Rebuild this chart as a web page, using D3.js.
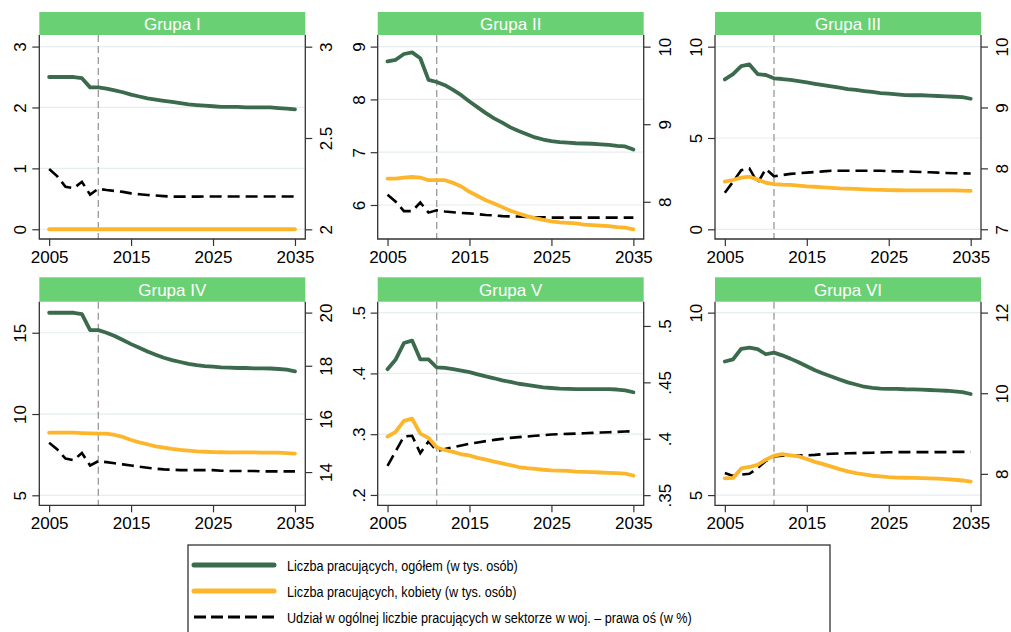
<!DOCTYPE html>
<html>
<head>
<meta charset="utf-8">
<script src="https://cdn.jsdelivr.net/npm/d3@7"></script>
<style>
  body { margin: 0; background: #fff; }
  svg { display: block; }
</style>
</head>
<body>
<svg id="chart" width="1011" height="632"></svg>
<script>
// lata 2005-2035
var years = d3.range(2005, 2036);
var xTicks = [2005, 2015, 2025, 2035];
var markYear = 2011;

var groupNames = ["Grupa I", "Grupa II", "Grupa III", "Grupa IV", "Grupa V", "Grupa VI"];

// ogółem (w tys. osób)
var g1Total = [2.5, 2.5, 2.5, 2.5, 2.48, 2.33, 2.33, 2.31, 2.28, 2.25, 2.21, 2.18, 2.15, 2.13, 2.11, 2.09, 2.07, 2.05, 2.04, 2.03, 2.02, 2.01, 2.01, 2.01, 2.0, 2.0, 2.0, 2.0, 1.99, 1.98, 1.97];
var g2Total = [8.72, 8.75, 8.86, 8.89, 8.78, 8.37, 8.33, 8.27, 8.18, 8.08, 7.96, 7.85, 7.74, 7.64, 7.56, 7.47, 7.40, 7.34, 7.28, 7.24, 7.21, 7.19, 7.18, 7.17, 7.165, 7.16, 7.15, 7.14, 7.12, 7.11, 7.05];
var g3Total = [8.21, 8.5, 8.94, 9.03, 8.5, 8.45, 8.27, 8.23, 8.18, 8.12, 8.05, 7.97, 7.90, 7.83, 7.76, 7.68, 7.63, 7.57, 7.52, 7.46, 7.43, 7.39, 7.35, 7.34, 7.34, 7.32, 7.30, 7.28, 7.26, 7.24, 7.15];
var g4Total = [16.23, 16.23, 16.23, 16.23, 16.15, 15.16, 15.16, 15.0, 14.8, 14.55, 14.30, 14.08, 13.85, 13.65, 13.46, 13.32, 13.20, 13.09, 13.01, 12.95, 12.91, 12.87, 12.85, 12.83, 12.83, 12.81, 12.81, 12.80, 12.77, 12.73, 12.62];
var g5Total = [.407, .423, .450, .454, .423, .423, .410, .409, .407, .4045, .402, .3985, .395, .392, .3885, .386, .383, .381, .379, .377, .376, .375, .3745, .374, .374, .374, .374, .374, .3735, .372, .369];
var g6Total = [8.66, 8.72, 9.01, 9.04, 9.0, 8.86, 8.905, 8.83, 8.74, 8.64, 8.53, 8.42, 8.33, 8.25, 8.17, 8.09, 8.03, 7.97, 7.94, 7.92, 7.91, 7.91, 7.90, 7.895, 7.89, 7.88, 7.87, 7.86, 7.84, 7.82, 7.77];

// kobiety (w tys. osób)
var g1Women = [0, 0, 0, 0, 0, 0, 0, 0, 0, 0, 0, 0, 0, 0, 0, 0, 0, 0, 0, 0, 0, 0, 0, 0, 0, 0, 0, 0, 0, 0, 0];
var g2Women = [6.50, 6.50, 6.52, 6.53, 6.52, 6.47, 6.47, 6.47, 6.42, 6.35, 6.25, 6.17, 6.09, 6.03, 5.96, 5.89, 5.84, 5.79, 5.75, 5.72, 5.69, 5.67, 5.66, 5.65, 5.63, 5.62, 5.61, 5.60, 5.58, 5.57, 5.54];
var g3Women = [2.61, 2.70, 2.83, 2.88, 2.72, 2.55, 2.48, 2.45, 2.43, 2.39, 2.35, 2.33, 2.30, 2.27, 2.24, 2.23, 2.21, 2.19, 2.17, 2.16, 2.15, 2.14, 2.13, 2.13, 2.13, 2.13, 2.13, 2.13, 2.13, 2.12, 2.10];
var g4Women = [8.85, 8.85, 8.85, 8.85, 8.83, 8.81, 8.79, 8.79, 8.71, 8.59, 8.40, 8.26, 8.14, 8.01, 7.93, 7.85, 7.79, 7.75, 7.70, 7.68, 7.66, 7.65, 7.64, 7.64, 7.64, 7.64, 7.63, 7.62, 7.62, 7.60, 7.56];
var g5Women = [.296, .304, .322, .3255, .301, .294, .278, .274, .271, .267, .265, .261, .258, .255, .252, .249, .246, .244, .243, .2415, .2405, .24, .2395, .2385, .238, .2375, .237, .2365, .236, .235, .232];
var g6Women = [5.46, 5.47, 5.73, 5.77, 5.83, 5.97, 6.08, 6.12, 6.09, 6.06, 5.99, 5.91, 5.85, 5.78, 5.71, 5.65, 5.60, 5.57, 5.53, 5.51, 5.49, 5.48, 5.475, 5.47, 5.465, 5.46, 5.45, 5.44, 5.42, 5.40, 5.37];

// udział w % (prawa oś)
var g1Share = [2.33, 2.29, 2.233, 2.225, 2.26, 2.19, 2.222, 2.215, 2.21, 2.205, 2.197, 2.192, 2.188, 2.185, 2.182, 2.179, 2.179, 2.179, 2.179, 2.18, 2.18, 2.18, 2.18, 2.18, 2.18, 2.18, 2.18, 2.18, 2.18, 2.18, 2.18];
var g2Share = [8.09, 8.0, 7.88, 7.88, 7.99, 7.86, 7.89, 7.875, 7.865, 7.855, 7.85, 7.84, 7.83, 7.825, 7.815, 7.812, 7.81, 7.805, 7.80, 7.80, 7.795, 7.795, 7.795, 7.795, 7.795, 7.795, 7.795, 7.795, 7.795, 7.795, 7.795];
var g3Share = [7.60, 7.78, 7.97, 8.0, 7.76, 7.99, 7.87, 7.89, 7.91, 7.92, 7.93, 7.94, 7.95, 7.96, 7.96, 7.96, 7.96, 7.96, 7.96, 7.96, 7.955, 7.95, 7.95, 7.945, 7.94, 7.935, 7.93, 7.925, 7.92, 7.918, 7.915];
var g4Share = [15.1, 14.85, 14.51, 14.45, 14.72, 14.25, 14.41, 14.375, 14.33, 14.29, 14.25, 14.2, 14.16, 14.125, 14.1, 14.09, 14.075, 14.075, 14.075, 14.075, 14.075, 14.05, 14.04, 14.04, 14.04, 14.04, 14.025, 14.025, 14.025, 14.025, 14.025];
var g5Share = [.376, .389, .402, .4026, .3872, .3976, .3893, .3908, .3925, .394, .3955, .3967, .3979, .399, .3999, .4008, .4014, .402, .4026, .4032, .4037, .404, .4043, .4046, .4049, .4052, .4055, .4058, .4061, .4064, .4067];
var g6Share = [8.02, 7.95, 7.98, 8.0, 8.14, 8.32, 8.43, 8.45, 8.45, 8.455, 8.46, 8.47, 8.49, 8.50, 8.505, 8.51, 8.515, 8.52, 8.525, 8.53, 8.535, 8.54, 8.54, 8.54, 8.54, 8.54, 8.54, 8.54, 8.545, 8.545, 8.55];

// zakresy osi i podziałki
var leftDomains = [[-0.16, 3.19], [5.356, 9.22], [-0.53, 10.64], [4.385, 16.91], [.183, .518], [4.72, 10.3]];
var rightDomains = [[1.947, 3.064], [7.52, 10.15], [6.84, 10.19], [12.75, 20.41], [.341, .5215], [7.22, 12.27]];
var leftTicks = [[0, 1, 2, 3], [6, 7, 8, 9], [0, 5, 10], [5, 10, 15], [.2, .3, .4, .5], [5, 10]];
var rightTicks = [[2, 2.5, 3], [8, 9, 10], [7, 8, 9, 10], [14, 16, 18, 20], [.35, .4, .45, .5], [8, 10, 12]];

var legendLabels = [
  "Liczba pracujących, ogółem (w tys. osób)",
  "Liczba pracujących, kobiety (w tys. osób)",
  "Udział w ogólnej liczbie pracujących w sektorze w woj. – prawa oś (w %)"
];

var totals = [g1Total, g2Total, g3Total, g4Total, g5Total, g6Total];
var women = [g1Women, g2Women, g3Women, g4Women, g5Women, g6Women];
var shares = [g1Share, g2Share, g3Share, g4Share, g5Share, g6Share];

var green = "#3b6b4c",
  yellow = "#fdb62b",
  headerGreen = "#69d173",
  axisColor = "#333";

var svg = d3.select("#chart");
svg.append("rect").attr("width", 1011).attr("height", 632).attr("fill", "#fff");

var colLeft = [39.3, 377.7, 715],
  plotW = 266,
  headTop = [12, 277.3],
  plotTop = [35, 301.7],
  plotBottom = [239, 505.3];

function fmt(v) {
  return String(v).replace(/^0\./, ".");
}

function drawPanel(i) {
  var col = i % 3,
    row = Math.floor(i / 3);
  var x0 = colLeft[col],
    x1 = x0 + plotW,
    top = plotTop[row],
    bottom = plotBottom[row];

  var x = d3.scaleLinear().domain([2003.8, 2036.26]).range([x0, x1]);
  var yL = d3.scaleLinear().domain(leftDomains[i]).range([bottom, top]);
  var yR = d3.scaleLinear().domain(rightDomains[i]).range([bottom, top]);

  var g = svg.append("g");

  // naglowek
  g.append("rect")
    .attr("x", x0)
    .attr("y", headTop[row])
    .attr("width", plotW)
    .attr("height", top - headTop[row])
    .attr("fill", headerGreen);
  g.append("text")
    .attr("x", x0 + plotW / 2)
    .attr("y", (headTop[row] + top) / 2)
    .attr("dy", "0.36em")
    .attr("text-anchor", "middle")
    .attr("fill", "#fff")
    .style("font-family", "Liberation Sans, Arial, sans-serif")
    .style("font-size", "17px")
    .text(groupNames[i]);

  // siatka
  g.selectAll(".grid")
    .data(leftTicks[i])
    .enter()
    .append("line")
    .attr("x1", x0)
    .attr("x2", x1)
    .attr("y1", function (d) { return yL(d); })
    .attr("y2", function (d) { return yL(d); })
    .attr("stroke", "#e6eef0")
    .attr("stroke-width", 1.2);

  // linia 2011
  g.append("line")
    .attr("x1", x(markYear))
    .attr("x2", x(markYear))
    .attr("y1", top)
    .attr("y2", bottom)
    .attr("stroke", "#999")
    .attr("stroke-width", 1.3)
    .attr("stroke-dasharray", "7,4");

  var lineL = d3.line()
    .x(function (d, k) { return x(years[k]); })
    .y(function (d) { return yL(d); });
  var lineR = d3.line()
    .x(function (d, k) { return x(years[k]); })
    .y(function (d) { return yR(d); });

  g.append("path")
    .datum(shares[i])
    .attr("fill", "none")
    .attr("stroke", "#000")
    .attr("stroke-width", 2.6)
    .attr("stroke-dasharray", "12,6")
    .attr("d", lineR);
  g.append("path")
    .datum(women[i])
    .attr("fill", "none")
    .attr("stroke", yellow)
    .attr("stroke-width", 3.8)
    .attr("stroke-linejoin", "round")
    .attr("stroke-linecap", "round")
    .attr("d", lineL);
  g.append("path")
    .datum(totals[i])
    .attr("fill", "none")
    .attr("stroke", green)
    .attr("stroke-width", 3.8)
    .attr("stroke-linejoin", "round")
    .attr("stroke-linecap", "round")
    .attr("d", lineL);

  // osie
  var axL = g.append("g")
    .attr("transform", "translate(" + x0 + ",0)")
    .call(d3.axisLeft(yL).tickValues(leftTicks[i]).tickSize(7).tickFormat(fmt));
  var axR = g.append("g")
    .attr("transform", "translate(" + x1 + ",0)")
    .call(d3.axisRight(yR).tickValues(rightTicks[i]).tickSize(7).tickFormat(fmt));
  var axB = g.append("g")
    .attr("transform", "translate(0," + bottom + ")")
    .call(d3.axisBottom(x).tickValues(xTicks).tickSize(7).tickFormat(d3.format("d")));

  [axL, axR, axB].forEach(function (a) {
    a.select(".domain").remove();
    a.selectAll(".tick line").attr("stroke", axisColor).attr("stroke-width", 1.2);
    a.selectAll("text")
      .attr("fill", "#000")
      .style("font-family", "Liberation Sans, Arial, sans-serif")
      .style("font-size", "17px");
  });
  axB.selectAll("text").attr("y", 12).attr("dy", "0.71em");
  axL.selectAll(".tick text")
    .attr("x", null)
    .attr("dy", null)
    .attr("text-anchor", "middle")
    .attr("transform", "translate(-13,0) rotate(-90)")
    .attr("y", 0);
  axR.selectAll(".tick text")
    .attr("x", null)
    .attr("dy", null)
    .attr("text-anchor", "middle")
    .attr("transform", "translate(15,0) rotate(-90)")
    .attr("y", 0)
    .attr("dominant-baseline", "hanging");

  // ramka wykresu (lewa, prawa, dolna)
  g.append("path")
    .attr("d", "M" + x0 + "," + top + "V" + bottom + "H" + x1 + "V" + top)
    .attr("fill", "none")
    .attr("stroke", axisColor)
    .attr("stroke-width", 1.3);
}

for (var i = 0; i < 6; i++) drawPanel(i);

// legenda
var legend = svg.append("g");
legend.append("rect")
  .attr("x", 188)
  .attr("y", 545)
  .attr("width", 642)
  .attr("height", 100)
  .attr("fill", "#fff")
  .attr("stroke", axisColor)
  .attr("stroke-width", 1.3);

var legendStyles = [
  { stroke: green, width: 5, dash: null, cap: "round" },
  { stroke: yellow, width: 5, dash: null, cap: "round" },
  { stroke: "#000", width: 2.8, dash: "12,5", cap: "butt" }
];
var legendY = d3.scalePoint().domain(legendLabels).range([565, 617]);

legendLabels.forEach(function (lab, k) {
  var s = legendStyles[k];
  legend.append("line")
    .attr("x1", 194)
    .attr("x2", 274)
    .attr("y1", legendY(lab))
    .attr("y2", legendY(lab))
    .attr("stroke", s.stroke)
    .attr("stroke-width", s.width)
    .attr("stroke-linecap", s.cap)
    .attr("stroke-dasharray", s.dash);
  // brak kroju Narrow - zwężamy zwykły Liberation Sans
  legend.append("text")
    .attr("transform", "translate(287," + legendY(lab) + ") scale(0.815,1)")
    .attr("dy", "0.36em")
    .style("font-family", "Liberation Sans, Arial, sans-serif")
    .style("font-size", "15.5px")
    .attr("fill", "#000")
    .text(lab);
});
</script>
</body>
</html>
